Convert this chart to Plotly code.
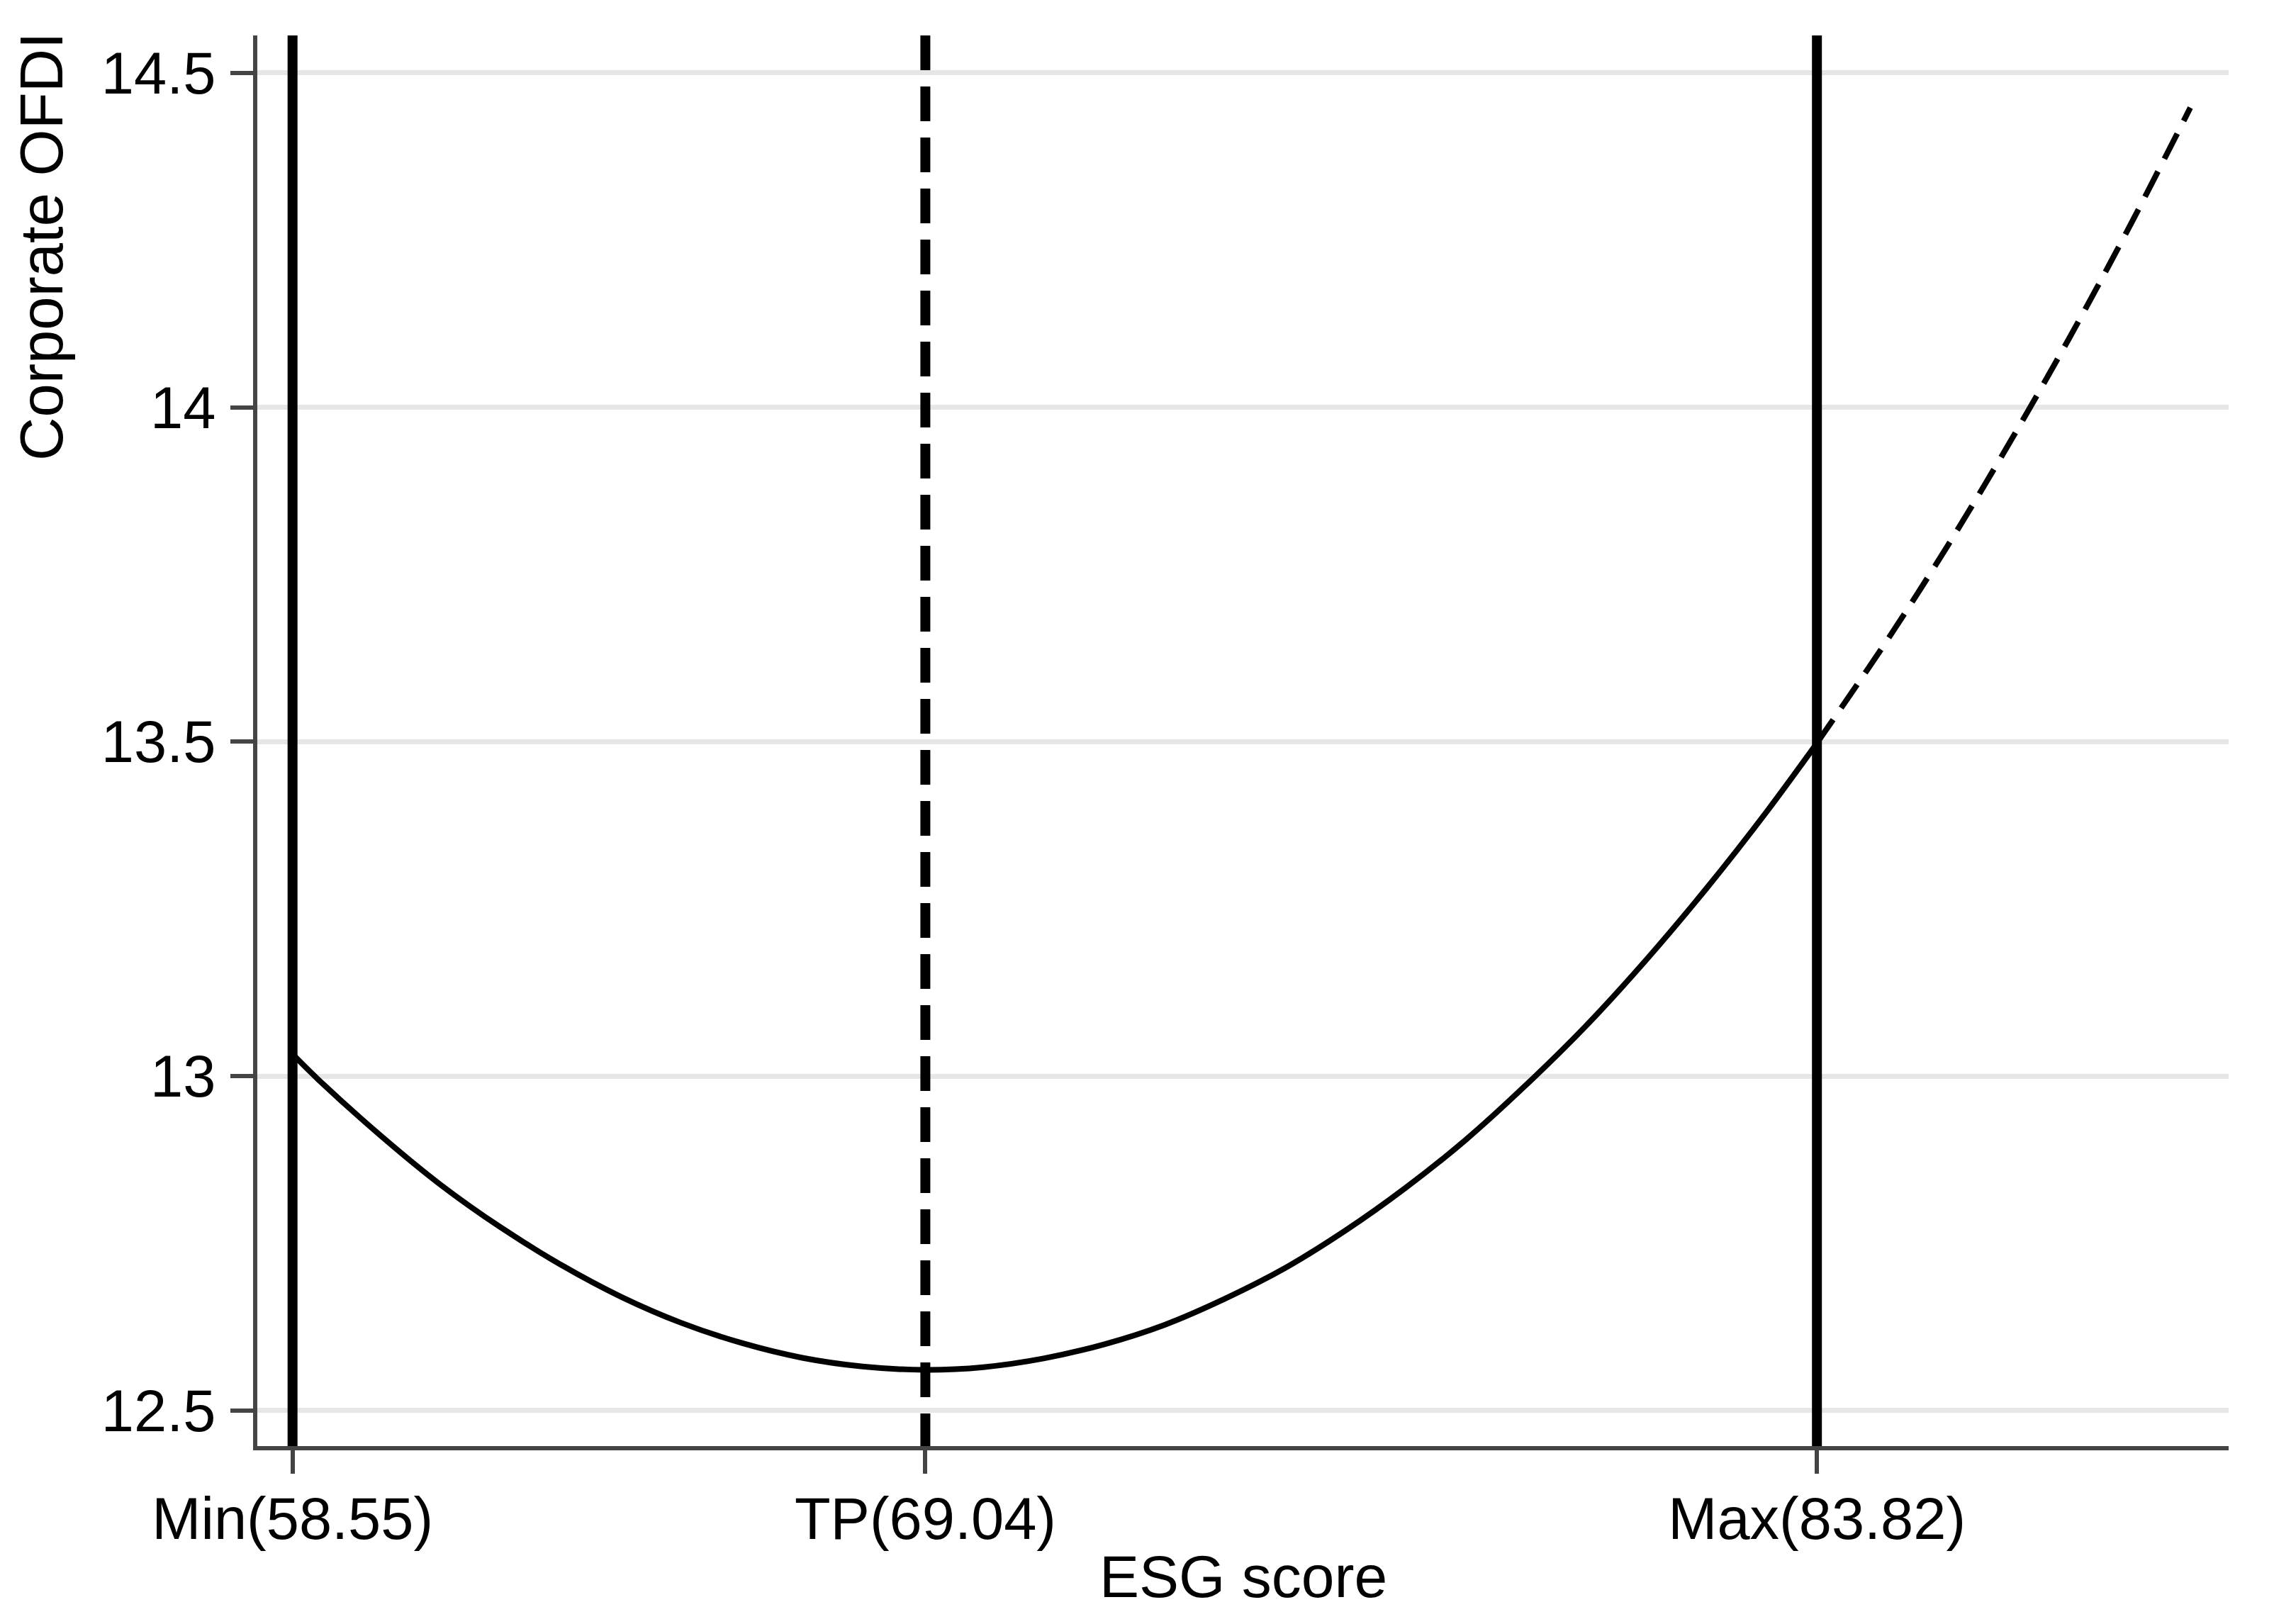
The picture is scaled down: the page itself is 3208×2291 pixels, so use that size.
import plotly.graph_objects as go

# ---- data ----
esg_solid = [58.55, 59, 60, 61, 62, 63, 64, 65, 66, 67, 68, 69.04, 70, 71, 72, 73, 74,
             75, 76, 77, 78, 79, 80, 81, 82, 83, 83.82]
ofdi_solid = [13.033, 12.993, 12.912, 12.838, 12.774, 12.718, 12.670, 12.631, 12.601,
              12.579, 12.566, 12.561, 12.565, 12.578, 12.599, 12.628, 12.667, 12.713,
              12.769, 12.833, 12.905, 12.987, 13.076, 13.175, 13.282, 13.397, 13.498]
esg_dash = [83.82, 85, 86, 87, 88, 89, 90.01]
ofdi_dash = [13.498, 13.654, 13.795, 13.945, 14.103, 14.270, 14.448]

xline_solid = [58.55, 83.82]
xline_dash = [69.04]
xtick_vals = [58.55, 69.04, 83.82]
xtick_text = ["Min(58.55)", "TP(69.04)", "Max(83.82)"]
ytick_vals = [12.5, 13, 13.5, 14, 14.5]
ytick_text = ["12.5", "13", "13.5", "14", "14.5"]

x_title = "ESG score"
y_title = "Corporate OFDI"

FONT = "Liberation Sans, Arial, sans-serif"
AX = "#444444"

fig = go.Figure()

fig.add_trace(go.Scatter(x=esg_solid, y=ofdi_solid, mode="lines",
                         line=dict(color="black", width=8, shape="spline"),
                         showlegend=False))
fig.add_trace(go.Scatter(x=esg_dash, y=ofdi_dash, mode="lines",
                         line=dict(color="black", width=8, shape="spline", dash="40px,20px"),
                         showlegend=False))

for xv in xline_solid:
    fig.add_shape(type="line", xref="x", yref="paper", x0=xv, x1=xv, y0=1, y1=0,
                  line=dict(color="black", width=14))
for xv in xline_dash:
    fig.add_shape(type="line", xref="x", yref="paper", x0=xv, x1=xv, y0=1, y1=0,
                  line=dict(color="black", width=14, dash="49px,23px"))

fig.add_annotation(text=y_title, xref="paper", yref="paper", x=-0.1095, y=0.8505,
                   xanchor="center", yanchor="middle", textangle=-90, showarrow=False,
                   font=dict(family=FONT, size=85, color="black"))
fig.add_annotation(text=x_title, xref="paper", yref="paper", x=0.5, y=-0.068,
                   xanchor="center", yanchor="top", showarrow=False,
                   font=dict(family=FONT, size=84, color="black"))

fig.update_layout(
    width=3192, height=2275,
    margin=dict(l=355, r=56, t=42, b=243),
    paper_bgcolor="white", plot_bgcolor="white",
    font=dict(family=FONT, size=83, color="black"),
    xaxis=dict(range=[57.966, 90.645], tickmode="array", tickvals=xtick_vals,
               ticktext=xtick_text, showgrid=False, zeroline=False,
               showline=True, linecolor=AX, linewidth=6,
               ticks="outside", ticklen=33, tickwidth=6, tickcolor=AX,
               ticklabelstandoff=-8,
               tickfont=dict(family=FONT, size=83, color="black")),
    yaxis=dict(range=[12.447, 14.556], tickmode="array", tickvals=ytick_vals,
               ticktext=ytick_text, showgrid=True, gridcolor="#e6e6e6", gridwidth=7,
               zeroline=False, showline=True, linecolor=AX, linewidth=6,
               ticks="outside", ticklen=32, tickwidth=6, tickcolor=AX,
               ticklabelstandoff=4,
               tickfont=dict(family=FONT, size=83, color="black")),
)

fig.write_html("out.html")
